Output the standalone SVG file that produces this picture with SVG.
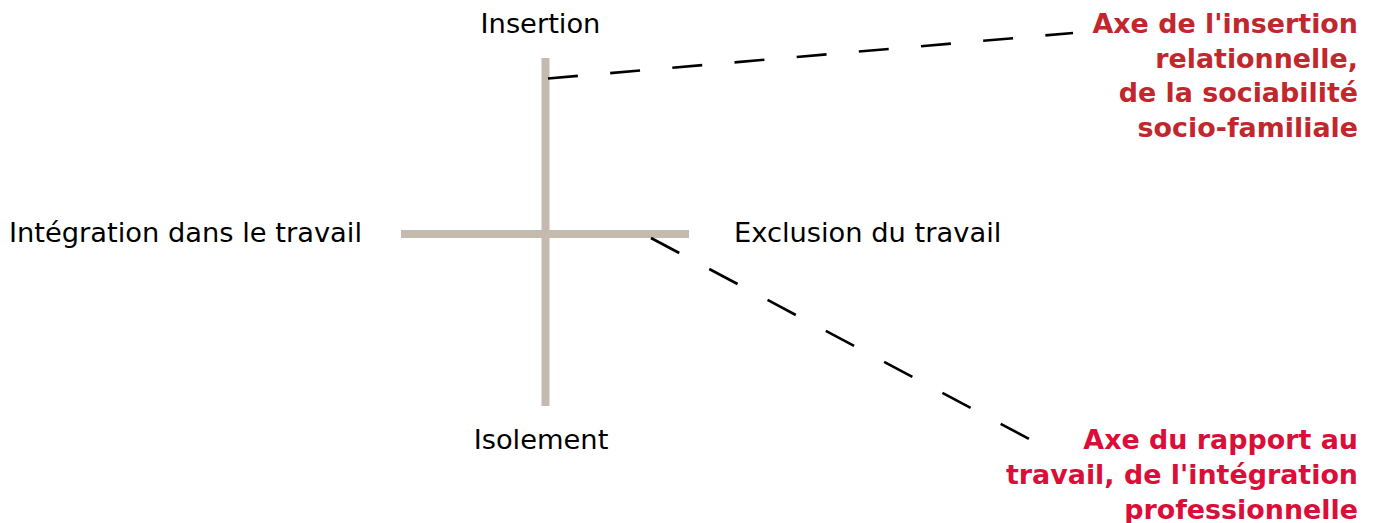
<svg xmlns="http://www.w3.org/2000/svg" width="1374" height="523" viewBox="0 0 1374 523">
<style>
.axis{stroke:#c4baae;stroke-width:8;fill:none}
.dash{stroke:#000;stroke-width:2.6;fill:none}
.lbl{font-family:"DejaVu Sans",Verdana,sans-serif;font-size:27.3px;fill:#000}
.note{font-family:"DejaVu Sans",Verdana,sans-serif;font-size:26.9px;font-weight:bold;text-anchor:end}
</style>
<rect width="1374" height="523" fill="#fff"/>
<g id="axes">
<line class="axis" x1="545.5" y1="58" x2="545.5" y2="406"/>
<line class="axis" x1="401" y1="234" x2="689" y2="234"/>
</g>
<g id="connectors">
<line class="dash" x1="548" y1="78.5" x2="1073" y2="33" stroke-dasharray="30 32.4"/>
<line class="dash" x1="651" y1="238" x2="1031" y2="440" stroke-dasharray="32 34"/>
</g>
<g id="insertion"><text class="lbl" x="540.5" y="33" text-anchor="middle">Insertion</text></g>
<g id="isolement"><text class="lbl" x="541" y="449" text-anchor="middle">Isolement</text></g>
<g id="integration"><text class="lbl" x="362" y="242" text-anchor="end">Intégration dans le travail</text></g>
<g id="exclusion"><text class="lbl" x="734" y="242">Exclusion du travail</text></g>
<g id="axe-insertion">
<text class="note" fill="#c1272d"><tspan x="1358" y="33">Axe de l'insertion</tspan><tspan x="1358" y="67.5">relationnelle,</tspan><tspan x="1358" y="102">de la sociabilité</tspan><tspan x="1358" y="136.5">socio-familiale</tspan></text>
</g>
<g id="axe-travail">
<text class="note" fill="#da0e38"><tspan x="1358" y="449">Axe du rapport au</tspan><tspan x="1358" y="484">travail, de l'intégration</tspan><tspan x="1358" y="519">professionnelle</tspan></text>
</g>
</svg>
